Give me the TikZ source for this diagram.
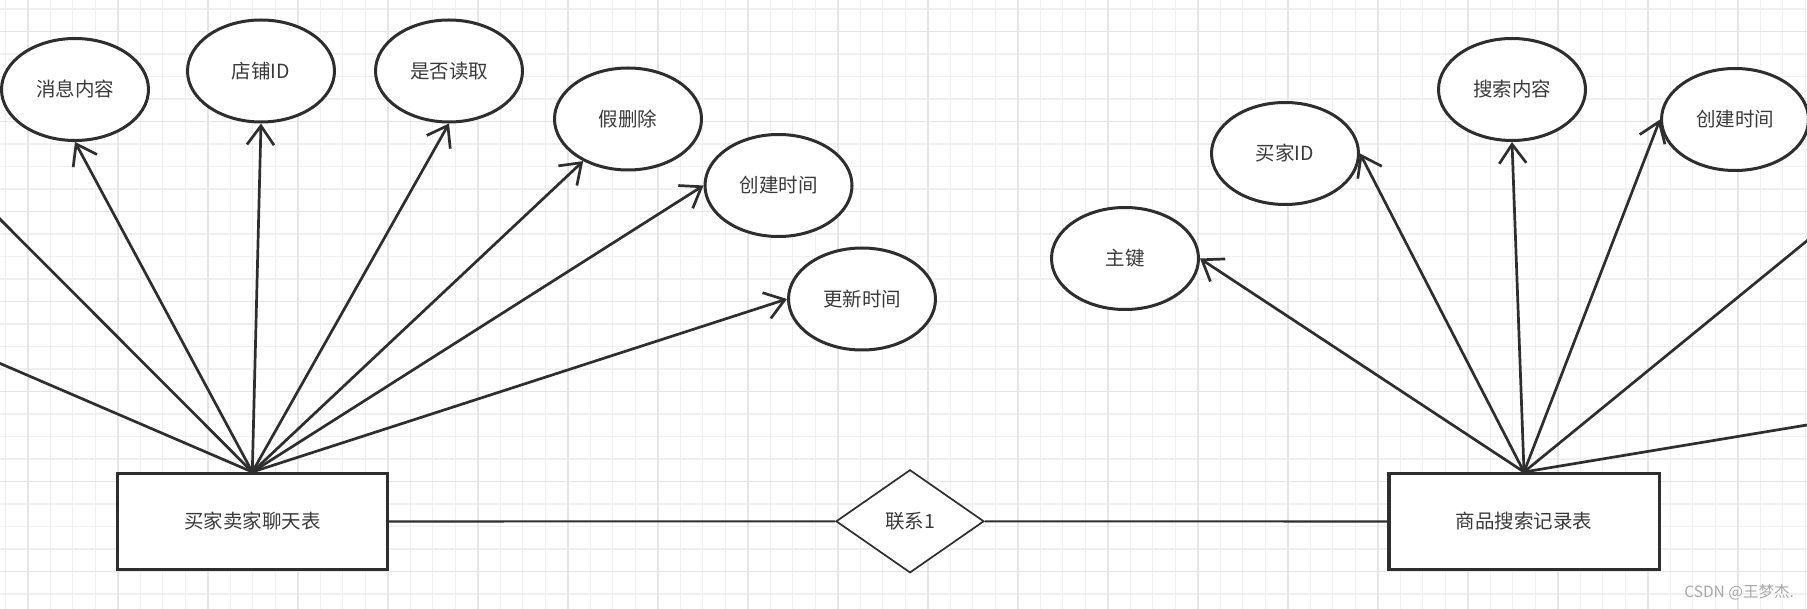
\documentclass[tikz,border=0pt]{standalone}
\usepackage{fontspec}
\setmainfont{Noto Sans CJK SC}
\usetikzlibrary{shapes.geometric,arrows.meta}
\definecolor{ink}{HTML}{2E2E2E}
\definecolor{txt}{HTML}{3A3A3A}
\definecolor{gminor}{HTML}{F0F0F0}
\definecolor{gmajor}{HTML}{E6E6E6}
\definecolor{wmark}{HTML}{A8A8A8}
\begin{document}
\begin{tikzpicture}[x=1pt,y=-1pt,
  lbl/.style={font=\fontsize{19.5}{23}\selectfont,text=txt},
  attr/.style={ellipse,draw=ink,line width=3pt,fill=white,minimum width=147pt,minimum height=102pt,inner sep=0pt,lbl},
  entity/.style={rectangle,draw=ink,line width=3.2pt,fill=white,minimum width=270.2pt,minimum height=95.8pt,inner sep=0pt,lbl},
  rel/.style={diamond,draw=ink,line width=1.7pt,fill=white,minimum width=148pt,minimum height=103pt,inner sep=0pt,lbl},
  conn/.style={draw=ink,line width=2.7pt,-{Straight Barb[length=19pt,width=27pt]}},
  link/.style={draw=ink,line width=2.1pt},
  gmin/.style={draw=gminor,line width=1.1pt},
  gmaj/.style={draw=gmajor,line width=1.6pt}]
\useasboundingbox (0,0) rectangle (1807,609);
\clip (0,0) rectangle (1807,609);
\fill[white] (0,0) rectangle (1807,609);
% grid
\foreach \k in {0,...,80} \draw[gmin] ({5.2+22.5*\k},0) -- ({5.2+22.5*\k},609);
\foreach \k in {0,...,26} \draw[gmin] (0,{9+22.5*\k}) -- (1807,{9+22.5*\k});
\foreach \k in {0,...,19} \draw[gmaj] ({27.7+90*\k},0) -- ({27.7+90*\k},609);
\foreach \k in {0,...,6} \draw[gmaj] (0,{31.5+90*\k}) -- (1807,{31.5+90*\k});
% entities and relationship
\node[entity] (e1) at (252.3,521.5) {买家卖家聊天表};
\node[entity] (e2) at (1524,521.5) {商品搜索记录表};
\node[rel] (r1) at (910,521.3) {联系1};
% attributes left
\node[attr] (xx) at (75,89.5) {消息内容};
\node[attr] (dp) at (261,71) {店铺ID};
\node[attr] (sf) at (449,71) {是否读取};
\node[attr] (jsc) at (628,119) {假删除};
\node[attr] (cjl) at (778.5,185.5) {创建时间};
\node[attr] (gx) at (862,299) {更新时间};
% attributes right
\node[attr] (zj) at (1125,258.5) {主键};
\node[attr] (mj) at (1285,153.5) {买家ID};
\node[attr] (ss) at (1512,89.5) {搜索内容};
\node[attr] (cjr) at (1735,119.5) {创建时间};
% off-canvas ends
\coordinate (offl1) at (-60,159);
\coordinate (offl2) at (-60,337.6);
\coordinate (offr1) at (1870,189.3);
\coordinate (offr2) at (1870,414.5);
% connectors
\draw[conn] (e1.north) -- (xx.south);
\draw[conn] (e1.north) -- (dp.south);
\draw[conn] (e1.north) -- (sf.south);
\draw[conn] (e1.north) -- (jsc);
\draw[conn] (e1.north) -- (cjl.west);
\draw[conn] (e1.north) -- (gx.west);
\draw[conn] (e1.north) -- (offl1);
\draw[conn] (e1.north) -- (offl2);
\draw[conn] (e2.north) -- (zj.east);
\draw[conn] (e2.north) -- (mj.east);
\draw[conn] (e2.north) -- (ss.south);
\draw[conn] (e2.north) -- (cjr.west);
\draw[conn] (e2.north) -- (offr1);
\draw[conn] (e2.north) -- (offr2);
\draw[link] (e1.east) -- (r1.west);
\draw[link] (r1.east) -- (e2.west);
% watermark
\node[font=\fontsize{15.5}{18}\selectfont,text=wmark,anchor=east,inner sep=0pt] (wm) at (1794,592) {CSDN @王梦杰.};
\end{tikzpicture}
\end{document}
